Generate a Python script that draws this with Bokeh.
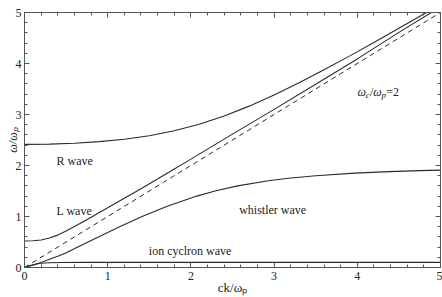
import math
from bokeh.plotting import figure
from bokeh.models import Range1d, LinearAxis, SingleIntervalTicker, Label, CustomJSTickFormatter
from bokeh.embed import file_html
from bokeh.resources import INLINE

# ---- data (ck/wp , w/wp) ----
k_R = [0.0, 0.3, 0.6, 0.9, 1.2, 1.5, 1.8, 2.1, 2.4, 2.7, 3.0, 3.3, 3.6, 3.9, 4.2, 4.5, 4.8, 5.0]
w_R = [2.414, 2.42, 2.437, 2.468, 2.515, 2.584, 2.68, 2.808, 2.97, 3.164, 3.383, 3.622, 3.876,
       4.14, 4.412, 4.69, 4.971, 5.16]

k_L = [0.0, 0.1, 0.2, 0.3, 0.4, 0.5, 0.6, 0.7, 0.8, 0.9, 1.0, 1.2, 1.4, 1.7, 2.0, 2.5, 3.0, 3.5,
       4.0, 4.5, 5.0]
w_L = [0.52, 0.524, 0.54, 0.58, 0.635, 0.715, 0.803, 0.894, 0.985, 1.078, 1.17, 1.358, 1.545,
       1.835, 2.125, 2.615, 3.10, 3.595, 4.09, 4.61, 5.11]

k_W = [0.0, 0.1, 0.2, 0.3, 0.4, 0.49, 0.64, 0.888, 1.143, 1.414, 1.715, 2.072, 2.29, 2.561, 2.93,
       3.172, 3.5, 3.97, 4.382, 4.75, 5.0]
w_W = [0.0, 0.045, 0.10, 0.16, 0.22, 0.28, 0.40, 0.60, 0.80, 1.00, 1.20, 1.40, 1.50, 1.60, 1.70,
       1.75, 1.80, 1.85, 1.88, 1.90, 1.91]

k_I = [0.0, 0.05, 0.1, 0.15, 0.2, 0.3, 0.45, 0.7, 1.0, 2.0, 3.0, 4.0, 5.0]
w_I = [0.0, 0.03, 0.055, 0.072, 0.083, 0.093, 0.098, 0.1, 0.1, 0.1, 0.1, 0.1, 0.1]

k_light = [0.0, 5.0]
w_light = [0.0, 5.0]

tick_interval = 1
wave_names = ["R wave", "L wave", "whistler wave", "ion cyclron wave"]
wave_label_pos = [(0.385, 2.096), (0.385, 1.113), (2.58, 1.12), (1.494, 0.332)]
x_label = "ck/ωₚ"
y_label = "ω/ωₚ"

FONT = "'Liberation Serif', 'Times New Roman', serif"
LINE = "#2a2a2a"
AX = "#555555"
TXT = "#222222"

W, H = 442, 297
BL, BR, BT, BB = 24, 2, 12, 29
FW, FH = W - BL - BR, H - BT - BB

p = figure(width=W, height=H, output_backend="svg", toolbar_location=None,
           x_range=Range1d(0, 5), y_range=Range1d(0, 5),
           x_axis_location=None, y_axis_location=None,
           min_border_left=BL, min_border_right=BR, min_border_top=BT, min_border_bottom=BB)
p.outline_line_color = AX
p.outline_line_width = 1
p.background_fill_color = "white"
p.border_fill_color = "white"
p.grid.visible = False


def mk_axis(show_labels, standoff):
    ax = LinearAxis(ticker=SingleIntervalTicker(interval=tick_interval, num_minor_ticks=5))
    ax.major_tick_in = 5
    ax.major_tick_out = 0
    ax.minor_tick_in = 3
    ax.minor_tick_out = 0
    ax.axis_line_color = AX
    ax.major_tick_line_color = AX
    ax.minor_tick_line_color = AX
    ax.major_label_text_font = FONT
    ax.major_label_text_font_size = "12px"
    ax.major_label_text_color = TXT
    ax.major_label_standoff = standoff
    ax.axis_label_text_font = FONT
    ax.axis_label_text_color = TXT
    if not show_labels:
        ax.formatter = CustomJSTickFormatter(code="return ''")
    return ax


xb = mk_axis(True, 4)
xb.axis_label = x_label
xb.axis_label_text_font_size = "13px"
xb.axis_label_text_font_style = "normal"
xb.axis_label_standoff = -3
p.add_layout(xb, "below")

yl = mk_axis(True, 3)
yl.axis_label = y_label
yl.axis_label_text_font_size = "12px"
yl.axis_label_text_font_style = "italic"
yl.axis_label_standoff = -7
p.add_layout(yl, "left")

p.add_layout(mk_axis(False, 0), "above")
p.add_layout(mk_axis(False, 0), "right")

for kk, ww in [(k_R, w_R), (k_L, w_L), (k_W, w_W), (k_I, w_I)]:
    p.line(kk, ww, line_color=LINE, line_width=1.1)
p.line(k_light, w_light, line_color=LINE, line_width=1.0, line_dash="5 4")

for name, (lx, ly) in zip(wave_names, wave_label_pos):
    p.add_layout(Label(x=lx, y=ly, text=name, text_font=FONT, text_font_size="12px",
                       text_color=TXT, text_baseline="alphabetic", text_align="left"))


def px2data(px, py):
    return (px - BL) * 5.0 / FW, (BT + FH - py) * 5.0 / FH


def rich(x0, y0, parts):
    adv = 0.0
    for txt, size, style, sub, w in parts:
        dx, dy = px2data(x0 + adv, y0 + sub)
        p.add_layout(Label(x=dx, y=dy, text=txt, text_font=FONT,
                           text_font_size=f"{size}px", text_font_style=style,
                           text_color=TXT, text_baseline="alphabetic", text_align="left"))
        adv += w


# omega_c / omega_p = 2
rich(357, 92, [("ω", 12, "italic", 0, 8.2), ("c", 9, "italic", 3, 4.2), ("/", 12, "normal", 0, 3.4),
               ("ω", 12, "italic", 0, 8.2), ("p", 9, "italic", 3, 4.8), ("=2", 12, "normal", 0, 12)])

open("out.html", "w").write(file_html(p, INLINE))
